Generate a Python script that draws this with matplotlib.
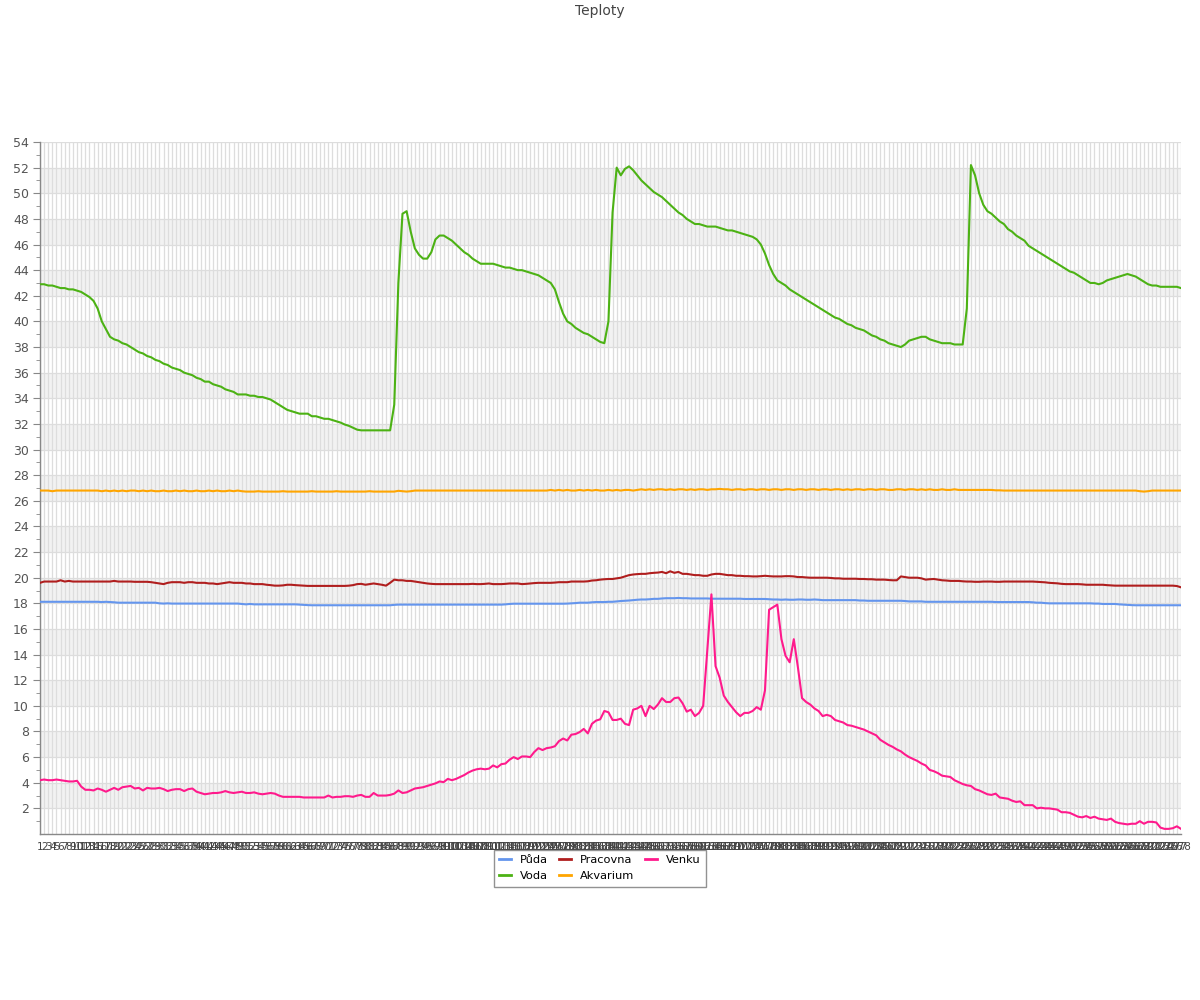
import matplotlib
matplotlib.use("Agg")
import matplotlib.pyplot as plt
from matplotlib.lines import Line2D

categories = [str(i) for i in range(1, 279)]

puda = [18.12, 18.12, 18.12, 18.12, 18.12, 18.12, 18.12, 18.12, 18.12, 18.12,
        18.12, 18.12, 18.12, 18.12, 18.12, 18.1, 18.12, 18.1, 18.08, 18.05,
        18.05, 18.05, 18.05, 18.05, 18.05, 18.05, 18.05, 18.05, 18.05, 18.0,
        17.98, 18.0, 17.98, 17.98, 17.98, 17.98, 17.98, 17.98, 17.98, 17.98,
        17.98, 17.98, 17.98, 17.98, 17.98, 17.98, 17.98, 17.98, 17.98, 17.95,
        17.92, 17.95, 17.92, 17.92, 17.92, 17.92, 17.92, 17.92, 17.92, 17.92,
        17.92, 17.92, 17.92, 17.9, 17.88, 17.86, 17.85, 17.85, 17.85, 17.85,
        17.85, 17.85, 17.85, 17.85, 17.85, 17.85, 17.85, 17.85, 17.85, 17.85,
        17.85, 17.85, 17.85, 17.85, 17.85, 17.85, 17.88, 17.9, 17.9, 17.9,
        17.9, 17.9, 17.9, 17.9, 17.9, 17.9, 17.9, 17.9, 17.9, 17.9,
        17.9, 17.9, 17.9, 17.9, 17.9, 17.9, 17.9, 17.9, 17.9, 17.9,
        17.9, 17.9, 17.9, 17.92, 17.95, 17.97, 17.97, 17.97, 17.97, 17.97,
        17.97, 17.97, 17.97, 17.97, 17.97, 17.97, 17.97, 17.97, 17.98, 18.0,
        18.02, 18.05, 18.05, 18.05, 18.08, 18.1, 18.1, 18.1, 18.12, 18.12,
        18.15, 18.18, 18.2, 18.22, 18.25, 18.28, 18.3, 18.3, 18.32, 18.35,
        18.35, 18.38, 18.4, 18.4, 18.4, 18.42, 18.4, 18.4, 18.38, 18.38,
        18.38, 18.38, 18.38, 18.36, 18.36, 18.36, 18.36, 18.36, 18.36, 18.36,
        18.36, 18.34, 18.34, 18.34, 18.34, 18.34, 18.34, 18.32, 18.3, 18.3,
        18.28, 18.3, 18.28, 18.28, 18.3, 18.3, 18.28, 18.28, 18.3, 18.28,
        18.25, 18.25, 18.25, 18.25, 18.25, 18.25, 18.25, 18.25, 18.25, 18.22,
        18.22, 18.2, 18.2, 18.2, 18.2, 18.2, 18.2, 18.2, 18.2, 18.2,
        18.18, 18.15, 18.15, 18.15, 18.15, 18.12, 18.12, 18.12, 18.12, 18.12,
        18.12, 18.12, 18.12, 18.12, 18.12, 18.12, 18.12, 18.12, 18.12, 18.12,
        18.12, 18.12, 18.1, 18.1, 18.1, 18.1, 18.1, 18.1, 18.1, 18.1,
        18.1, 18.08, 18.05, 18.05, 18.02, 18.0, 18.0, 18.0, 18.0, 18.0,
        18.0, 18.0, 18.0, 18.0, 18.0, 18.0, 17.98, 17.98, 17.95, 17.95,
        17.95, 17.95, 17.92, 17.9, 17.88, 17.86, 17.85, 17.85, 17.85, 17.85,
        17.85, 17.85, 17.85, 17.85, 17.85, 17.85, 17.85, 17.85]

voda = [42.9, 42.9, 42.8, 42.8, 42.7, 42.6, 42.6, 42.5, 42.5, 42.4,
        42.3, 42.1, 41.9, 41.6, 41.0, 40.0, 39.4, 38.8, 38.6, 38.5,
        38.3, 38.2, 38.0, 37.8, 37.6, 37.5, 37.3, 37.2, 37.0, 36.9,
        36.7, 36.6, 36.4, 36.3, 36.2, 36.0, 35.9, 35.8, 35.6, 35.5,
        35.3, 35.3, 35.1, 35.0, 34.9, 34.7, 34.6, 34.5, 34.3, 34.3,
        34.3, 34.2, 34.2, 34.1, 34.1, 34.0, 33.9, 33.7, 33.5, 33.3,
        33.1, 33.0, 32.9, 32.8, 32.8, 32.8, 32.6, 32.6, 32.5, 32.4,
        32.4, 32.3, 32.2, 32.1, 31.95, 31.85, 31.7, 31.55, 31.5, 31.5,
        31.5, 31.5, 31.5, 31.5, 31.5, 31.5, 33.5, 43.0, 48.4, 48.6,
        47.0, 45.7, 45.2, 44.9, 44.9, 45.4, 46.4, 46.7, 46.7, 46.5,
        46.3, 46.0, 45.7, 45.4, 45.2, 44.9, 44.7, 44.5, 44.5, 44.5,
        44.5, 44.4, 44.3, 44.2, 44.2, 44.1, 44.0, 44.0, 43.9, 43.8,
        43.7, 43.6, 43.4, 43.2, 43.0, 42.5, 41.5, 40.6, 40.0, 39.8,
        39.5, 39.3, 39.1, 39.0, 38.8, 38.6, 38.4, 38.3, 40.0, 48.5,
        52.0, 51.4, 51.9, 52.1, 51.8, 51.4, 51.0, 50.7, 50.4, 50.1,
        49.9, 49.7, 49.4, 49.1, 48.8, 48.5, 48.3, 48.0, 47.8, 47.6,
        47.6, 47.5, 47.4, 47.4, 47.4, 47.3, 47.2, 47.1, 47.1, 47.0,
        46.9, 46.8, 46.7, 46.6, 46.4, 46.0, 45.3, 44.4, 43.7, 43.2,
        43.0, 42.8, 42.5, 42.3, 42.1, 41.9, 41.7, 41.5, 41.3, 41.1,
        40.9, 40.7, 40.5, 40.3, 40.2, 40.0, 39.8, 39.7, 39.5, 39.4,
        39.3, 39.1, 38.9, 38.8, 38.6, 38.5, 38.3, 38.2, 38.1, 38.0,
        38.2, 38.5, 38.6, 38.7, 38.8, 38.8, 38.6, 38.5, 38.4, 38.3,
        38.3, 38.3, 38.2, 38.2, 38.2, 41.0, 52.2, 51.4, 50.0, 49.1,
        48.6, 48.4, 48.1, 47.8, 47.6, 47.2, 47.0, 46.7, 46.5, 46.3,
        45.9, 45.7, 45.5, 45.3, 45.1, 44.9, 44.7, 44.5, 44.3, 44.1,
        43.9, 43.8, 43.6, 43.4, 43.2, 43.0, 43.0, 42.9, 43.0, 43.2,
        43.3, 43.4, 43.5, 43.6, 43.7, 43.6, 43.5, 43.3, 43.1, 42.9,
        42.8, 42.8, 42.7, 42.7, 42.7, 42.7, 42.7, 42.6]

pracovna = [19.6, 19.7, 19.7, 19.7, 19.7, 19.8, 19.7, 19.75, 19.7, 19.7,
            19.7, 19.7, 19.7, 19.7, 19.7, 19.7, 19.7, 19.7, 19.75, 19.7,
            19.7, 19.7, 19.7, 19.68, 19.68, 19.68, 19.68, 19.65, 19.6, 19.55,
            19.5, 19.6, 19.65, 19.65, 19.65, 19.6, 19.65, 19.65, 19.6, 19.6,
            19.6, 19.55, 19.55, 19.5, 19.55, 19.6, 19.65, 19.6, 19.6, 19.6,
            19.55, 19.55, 19.5, 19.5, 19.5, 19.45, 19.42, 19.38, 19.38, 19.4,
            19.45, 19.45, 19.42, 19.4, 19.38, 19.36, 19.36, 19.36, 19.36, 19.36,
            19.36, 19.36, 19.36, 19.36, 19.36, 19.38, 19.42, 19.5, 19.52, 19.45,
            19.5, 19.55, 19.5, 19.45, 19.38, 19.6, 19.85, 19.8, 19.8, 19.75,
            19.75, 19.7, 19.65, 19.6, 19.55, 19.52, 19.5, 19.5, 19.5, 19.5,
            19.5, 19.5, 19.5, 19.5, 19.5, 19.52, 19.5, 19.5, 19.52, 19.55,
            19.5, 19.5, 19.5, 19.52, 19.55, 19.55, 19.55, 19.5, 19.52, 19.55,
            19.58, 19.6, 19.6, 19.6, 19.6, 19.62, 19.65, 19.65, 19.65, 19.7,
            19.7, 19.7, 19.7, 19.72, 19.78, 19.8, 19.85, 19.88, 19.9, 19.9,
            19.95, 20.0, 20.1, 20.2, 20.25, 20.28, 20.3, 20.3, 20.35, 20.38,
            20.4, 20.45, 20.35, 20.5, 20.38, 20.45, 20.3, 20.3, 20.25, 20.2,
            20.2, 20.15, 20.15, 20.25, 20.3, 20.3, 20.25, 20.2, 20.2, 20.15,
            20.15, 20.12, 20.12, 20.1, 20.1, 20.12, 20.15, 20.12, 20.1, 20.1,
            20.1, 20.12, 20.12, 20.1, 20.05, 20.05, 20.02, 20.0, 20.0, 20.0,
            20.0, 20.0, 19.98, 19.95, 19.95, 19.92, 19.92, 19.92, 19.92, 19.9,
            19.9, 19.88, 19.88, 19.85, 19.85, 19.85, 19.82, 19.8, 19.8, 20.1,
            20.05, 20.0, 20.0, 20.0, 19.95, 19.85, 19.88, 19.9, 19.85, 19.8,
            19.78, 19.75, 19.75, 19.75, 19.72, 19.7, 19.7, 19.68, 19.68, 19.7,
            19.7, 19.7, 19.68, 19.68, 19.7, 19.7, 19.7, 19.7, 19.7, 19.7,
            19.7, 19.7, 19.68, 19.66, 19.64, 19.6, 19.58, 19.56, 19.52, 19.5,
            19.5, 19.5, 19.5, 19.48, 19.45, 19.45, 19.45, 19.45, 19.45, 19.42,
            19.4, 19.38, 19.38, 19.38, 19.38, 19.38, 19.38, 19.38, 19.38, 19.38,
            19.38, 19.38, 19.38, 19.38, 19.38, 19.38, 19.35, 19.25]

akvarium = [26.8, 26.8, 26.8, 26.75, 26.8, 26.8, 26.8, 26.8, 26.8, 26.8,
            26.8, 26.8, 26.8, 26.8, 26.8, 26.75, 26.8, 26.75, 26.8, 26.75,
            26.8, 26.75, 26.8, 26.8, 26.75, 26.8, 26.75, 26.8, 26.75, 26.75,
            26.8, 26.75, 26.75, 26.8, 26.75, 26.8, 26.75, 26.75, 26.8, 26.75,
            26.75, 26.8, 26.75, 26.8, 26.75, 26.75, 26.8, 26.75, 26.8, 26.75,
            26.72, 26.72, 26.72, 26.75, 26.72, 26.72, 26.72, 26.72, 26.72, 26.75,
            26.72, 26.72, 26.72, 26.72, 26.72, 26.72, 26.75, 26.72, 26.72, 26.72,
            26.72, 26.72, 26.75, 26.72, 26.72, 26.72, 26.72, 26.72, 26.72, 26.72,
            26.75, 26.72, 26.72, 26.72, 26.72, 26.72, 26.72, 26.78, 26.75, 26.72,
            26.75, 26.8, 26.8, 26.8, 26.8, 26.8, 26.8, 26.8, 26.8, 26.8,
            26.8, 26.8, 26.8, 26.8, 26.8, 26.8, 26.8, 26.8, 26.8, 26.8,
            26.8, 26.8, 26.8, 26.8, 26.8, 26.8, 26.8, 26.8, 26.8, 26.8,
            26.8, 26.8, 26.8, 26.8, 26.85, 26.8, 26.85, 26.8, 26.85, 26.8,
            26.8, 26.85, 26.8, 26.85, 26.8, 26.85, 26.8, 26.8, 26.85, 26.8,
            26.85, 26.8, 26.85, 26.85, 26.8, 26.85, 26.9, 26.85, 26.9, 26.85,
            26.9, 26.9, 26.85, 26.9, 26.85, 26.9, 26.9, 26.85, 26.9, 26.85,
            26.9, 26.9, 26.85, 26.9, 26.9, 26.93, 26.9, 26.9, 26.85, 26.9,
            26.9, 26.85, 26.9, 26.9, 26.85, 26.9, 26.9, 26.85, 26.9, 26.9,
            26.85, 26.9, 26.9, 26.85, 26.9, 26.9, 26.85, 26.9, 26.9, 26.85,
            26.9, 26.9, 26.85, 26.9, 26.9, 26.85, 26.9, 26.85, 26.9, 26.9,
            26.85, 26.9, 26.9, 26.85, 26.9, 26.9, 26.85, 26.85, 26.9, 26.9,
            26.85, 26.9, 26.9, 26.85, 26.9, 26.85, 26.9, 26.85, 26.85, 26.9,
            26.85, 26.85, 26.9, 26.85, 26.85, 26.85, 26.85, 26.85, 26.85, 26.85,
            26.85, 26.85, 26.82, 26.82, 26.8, 26.8, 26.8, 26.8, 26.8, 26.8,
            26.8, 26.8, 26.8, 26.8, 26.8, 26.8, 26.8, 26.8, 26.8, 26.8,
            26.8, 26.8, 26.8, 26.8, 26.8, 26.8, 26.8, 26.8, 26.8, 26.8,
            26.8, 26.8, 26.8, 26.8, 26.8, 26.8, 26.8, 26.75, 26.72, 26.75,
            26.8, 26.8, 26.8, 26.8, 26.8, 26.8, 26.8, 26.8]

venku = [4.2, 4.25, 4.2, 4.2, 4.25, 4.2, 4.15, 4.1, 4.1, 4.15,
         3.7, 3.45, 3.45, 3.4, 3.55, 3.45, 3.3, 3.45, 3.6, 3.45,
         3.65, 3.7, 3.75, 3.55, 3.6, 3.4, 3.6, 3.55, 3.55, 3.6,
         3.5, 3.35, 3.45, 3.5, 3.5, 3.35, 3.5, 3.55, 3.3, 3.2,
         3.1, 3.15, 3.2, 3.2, 3.25, 3.35, 3.25, 3.2, 3.25, 3.3,
         3.2, 3.2, 3.25, 3.15, 3.1, 3.15, 3.2, 3.15, 3.0, 2.9,
         2.9, 2.9, 2.9, 2.9, 2.85, 2.85, 2.85, 2.85, 2.85, 2.85,
         3.0, 2.85, 2.9, 2.9, 2.95, 2.95, 2.9, 3.0, 3.05, 2.9,
         2.9, 3.2, 3.0, 3.0, 3.0, 3.05, 3.15, 3.4, 3.2, 3.25,
         3.4, 3.55, 3.6, 3.65, 3.75, 3.85, 3.95, 4.1, 4.05, 4.3,
         4.2, 4.3, 4.45, 4.6, 4.8, 4.95, 5.05, 5.1, 5.05, 5.1,
         5.35, 5.2, 5.45, 5.5, 5.8, 6.0, 5.85, 6.05, 6.05, 6.0,
         6.4, 6.7, 6.55, 6.7, 6.75, 6.85, 7.25, 7.45, 7.3, 7.75,
         7.8, 7.95, 8.2, 7.85, 8.6, 8.85, 8.95, 9.6, 9.5, 8.9,
         8.9, 9.0, 8.6, 8.5, 9.7, 9.8, 10.0, 9.2, 10.0, 9.75,
         10.1, 10.6, 10.3, 10.3, 10.6, 10.65, 10.2, 9.55, 9.7, 9.2,
         9.45, 10.0, 14.4, 18.7, 13.1, 12.2, 10.8, 10.3, 9.9, 9.5,
         9.2, 9.45, 9.45, 9.6, 9.9, 9.7, 11.2, 17.5, 17.7, 17.9,
         15.2, 13.9, 13.4, 15.2, 13.0, 10.6, 10.3, 10.1, 9.8, 9.6,
         9.2, 9.3, 9.2, 8.9, 8.8, 8.7, 8.5, 8.45, 8.35, 8.25,
         8.15, 8.0, 7.85, 7.7, 7.35, 7.15, 6.95, 6.8, 6.6, 6.45,
         6.2, 6.0, 5.85, 5.7, 5.5, 5.35, 5.0, 4.9, 4.75, 4.55,
         4.5, 4.45, 4.2, 4.05, 3.9, 3.8, 3.75, 3.5, 3.4, 3.25,
         3.1, 3.05, 3.15, 2.85, 2.8, 2.75, 2.6, 2.5, 2.55, 2.25,
         2.25, 2.25, 2.0, 2.05, 2.0, 2.0, 1.95, 1.9, 1.7, 1.7,
         1.65, 1.5, 1.35, 1.3, 1.4, 1.25, 1.35, 1.2, 1.15, 1.1,
         1.2, 0.95, 0.85, 0.8, 0.75, 0.8, 0.8, 1.0, 0.8, 0.95,
         0.95, 0.9, 0.5, 0.4, 0.4, 0.45, 0.6, 0.4]

series_names = ["Půda", "Voda", "Pracovna", "Akvarium", "Venku"]
series_colors = ["#6495ED", "#4CB214", "#B01E1E", "#FFA500", "#FF1A8C"]
series_data = [puda, voda, pracovna, akvarium, venku]

y_ticks = list(range(2, 55, 2))

plt.rcParams['font.family'] = ['DejaVu Sans']
fig = plt.figure(figsize=(12, 10), dpi=100)
ax = fig.add_axes([40 / 1200, 1 - 834 / 1000, 1141 / 1200, 692 / 1000])

x = list(range(len(categories)))
ax.set_xlim(0, len(categories) - 1)
ax.set_ylim(0, 54)

# alternating bands
for lo in range(2, 54, 4):
    ax.axhspan(lo, lo + 2, color="#f2f2f2", zorder=0, lw=0)

ax.set_xticks(x)
ax.set_xticklabels(categories, fontsize=7.5, color="#444444")
ax.tick_params(axis="x", length=0, pad=6)
ax.set_yticks(y_ticks)
ax.set_yticklabels([str(v) for v in y_ticks], fontsize=9, color="#555555")
ax.set_yticks(list(range(1, 54, 2)), minor=True)
ax.tick_params(axis="y", which="major", length=5, color="#888888", pad=3)
ax.tick_params(axis="y", which="minor", length=3, color="#888888")

ax.grid(True, axis="x", color="#dddddd", lw=0.9, zorder=1)
ax.grid(True, axis="y", which="major", color="#dddddd", lw=0.9, zorder=1)
ax.set_axisbelow(True)

for sp in ["top", "right"]:
    ax.spines[sp].set_visible(False)
for sp in ["left", "bottom"]:
    ax.spines[sp].set_color("#888888")
    ax.spines[sp].set_linewidth(1.0)

for name, col, data in zip(series_names, series_colors, series_data):
    ax.plot(x, data, color=col, lw=1.5, label=name, zorder=3)

handles = [Line2D([0], [0], color=c, lw=2) for c in series_colors]
leg = fig.legend(handles, series_names, loc="upper center", bbox_to_anchor=(0.5, 0.15),
                 ncol=3, fontsize=8.2, frameon=True, fancybox=False, handlelength=1.0,
                 handletextpad=0.8, columnspacing=1.0, borderpad=0.45, labelspacing=0.55,
                 borderaxespad=0)
leg.get_frame().set_edgecolor("#777777")
leg.get_frame().set_linewidth(1.0)

fig.text(0.5, 0.989, "Teploty", ha="center", va="center", fontsize=10, color="#444444")

fig.savefig("out.png", dpi=100)
